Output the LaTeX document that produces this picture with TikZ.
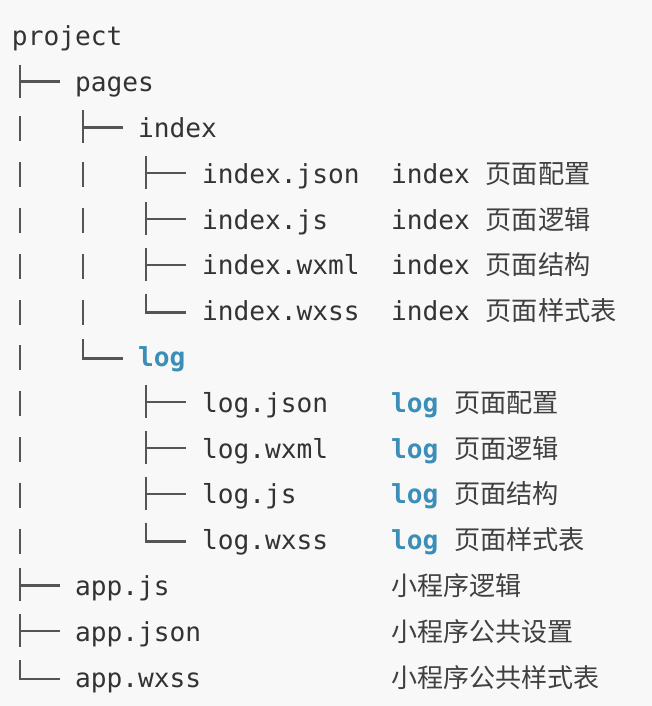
\documentclass[tikz,border=0pt]{standalone}
\usepackage{fontspec}
\newfontfamily\monof{DejaVu Sans Mono}
\newfontfamily\cjk{Noto Sans CJK SC}
\definecolor{txt}{HTML}{333333}
\definecolor{cjktxt}{HTML}{404040}
\definecolor{logblue}{HTML}{3A8EB8}
\definecolor{treeline}{HTML}{555555}
\definecolor{bg}{HTML}{F8F8F8}
\begin{document}
\begin{tikzpicture}[x=1pt,y=-1pt,
  every node/.style={inner sep=0pt, outer sep=0pt, anchor=base west, text=txt},
  fname/.style={font=\monof\fontsize{26.2}{30}\selectfont},
  cn/.style={font=\cjk\fontsize{26}{30}\selectfont, text=cjktxt},
  treestroke/.style={draw=treeline, line width=2.4pt},
  tee/.pic={\draw[treestroke] (0,-27)--(0,6) (0,-10)--(40,-10);},
  corner/.pic={\draw[treestroke] (0,-27)--(0,-8)--(40,-8);},
  vbar/.pic={\draw[treestroke] (0,-21)--(0,4);},
]
\fill[bg] (0,0) rectangle (652,706);
\useasboundingbox (0,0) rectangle (652,706);

% tree glyphs
\pic at (20,91.6) {tee};
\pic at (20,137.4) {vbar}; \pic at (83,137.4) {tee};
\foreach \y in {183.2,229.0,274.8} {\pic at (20,\y) {vbar}; \pic at (83,\y) {vbar}; \pic at (146,\y) {tee};}
\pic at (20,320.6) {vbar}; \pic at (83,320.6) {vbar}; \pic at (146,320.6) {corner};
\pic at (20,366.4) {vbar}; \pic at (83,366.4) {corner};
\foreach \y in {412.2,458.0,503.8} {\pic at (20,\y) {vbar}; \pic at (146,\y) {tee};}
\pic at (20,549.6) {vbar}; \pic at (146,549.6) {corner};
\pic at (20,595.4) {tee};
\pic at (20,641.2) {tee};
\pic at (20,687.0) {corner};

% file names
\node[fname] (project) at (12,45.8) {project};
\node[fname] (pages) at (75,91.6) {pages};
\node[fname] (index) at (138,137.4) {index};
\node[fname] (ijson) at (202,183.2) {index.json};
\node[fname] (ijs) at (202,229.0) {index.js};
\node[fname] (iwxml) at (202,274.8) {index.wxml};
\node[fname] (iwxss) at (202,320.6) {index.wxss};
\node[fname, text=logblue, font=\monof\bfseries\fontsize{26.2}{30}\selectfont] (log) at (138,366.4) {log};
\node[fname] (ljson) at (202,412.2) {log.json};
\node[fname] (lwxml) at (202,458.0) {log.wxml};
\node[fname] (ljs) at (202,503.8) {log.js};
\node[fname] (lwxss) at (202,549.6) {log.wxss};
\node[fname] (appjs) at (75,595.4) {app.js};
\node[fname] (appjson) at (75,641.2) {app.json};
\node[fname] (appwxss) at (75,687.0) {app.wxss};

% descriptions
\node[fname] (d1) at (391,183.2) {index {\cjk\color{cjktxt}页面配置}};
\node[fname] (d2) at (391,229.0) {index {\cjk\color{cjktxt}页面逻辑}};
\node[fname] (d3) at (391,274.8) {index {\cjk\color{cjktxt}页面结构}};
\node[fname] (d4) at (391,320.6) {index {\cjk\color{cjktxt}页面样式表}};
\node[fname] (d5) at (391,412.2) {{\bfseries\color{logblue}log} {\cjk\color{cjktxt}页面配置}};
\node[fname] (d6) at (391,458.0) {{\bfseries\color{logblue}log} {\cjk\color{cjktxt}页面逻辑}};
\node[fname] (d7) at (391,503.8) {{\bfseries\color{logblue}log} {\cjk\color{cjktxt}页面结构}};
\node[fname] (d8) at (391,549.6) {{\bfseries\color{logblue}log} {\cjk\color{cjktxt}页面样式表}};
\node[cn] (d9) at (391,595.4) {小程序逻辑};
\node[cn] (d10) at (391,641.2) {小程序公共设置};
\node[cn] (d11) at (391,687.0) {小程序公共样式表};
\end{tikzpicture}
\end{document}
